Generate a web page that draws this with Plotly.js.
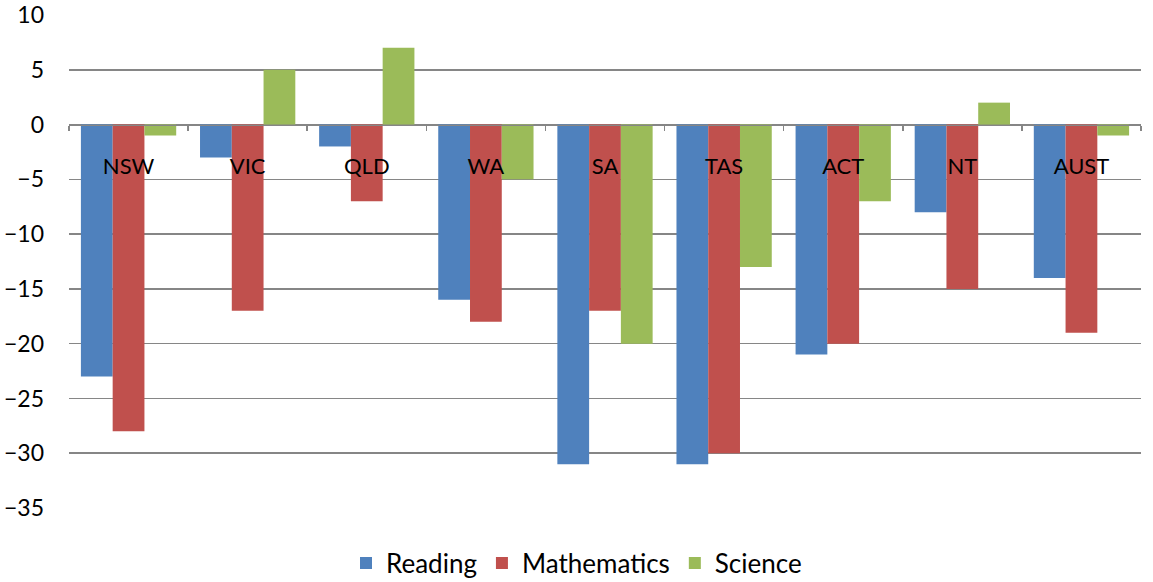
<!DOCTYPE html>
<html><head><meta charset="utf-8">
<script src="https://cdn.plot.ly/plotly-3.0.1.min.js"></script>
<style>html,body{margin:0;padding:0;background:#fff}#chart{width:1153px;height:582px}</style>
</head><body><div id="chart"></div>
<script>
const categories = ["NSW","VIC","QLD","WA","SA","TAS","ACT","NT","AUST"];
const reading = [-23,-3,-2,-16,-31,-31,-21,-8,-14];
const mathematics = [-28,-17,-7,-18,-17,-30,-20,-15,-19];
const science = [-1,5,7,-5,-20,-13,-7,2,-1];
const seriesNames = ["Reading","Mathematics","Science"];
const colors = ["#4F81BD","#C0504D","#9BBB59"];
const yTicks = [10,5,0,-5,-10,-15,-20,-25,-30,-35];

const FONT = "Lato, 'Open Sans', sans-serif";
const data = [reading, mathematics, science].map((vals,i)=>({
  type:"bar", x:categories, y:vals, name:seriesNames[i],
  marker:{color:colors[i], line:{width:0}}
}));
const layout = {
  width:1153, height:582,
  margin:{l:69, r:12, t:15, b:74},
  paper_bgcolor:"#fff", plot_bgcolor:"#fff",
  font:{family:FONT, size:23, color:"#000"},
  barmode:"group", bargap:0.2, bargroupgap:0,
  showlegend:true,
  legend:{orientation:"h", x:0.5, xanchor:"center", xref:"container",
          y:(582-563)/582, yanchor:"middle", yref:"container",
          font:{size:26}, itemwidth:30, traceorder:"normal"},
  xaxis:{anchor:"free", position:35/45, showline:true, linecolor:"#868686", linewidth:1.5,
         ticks:"outside", tickson:"boundaries", ticklen:5, tickcolor:"#868686", tickwidth:1.5,
         showgrid:false, tickfont:{size:22}, ticklabelstandoff:22, fixedrange:true},
  yaxis:{range:[-35,10], tickvals:yTicks, showgrid:true, gridcolor:"#868686", gridwidth:1.5,
         zeroline:false, showline:false, ticks:"", tickfont:{size:23}, ticklabelstandoff:24}
};
Plotly.newPlot("chart", data, layout, {displayModeBar:false, staticPlot:true});
</script></body></html>
